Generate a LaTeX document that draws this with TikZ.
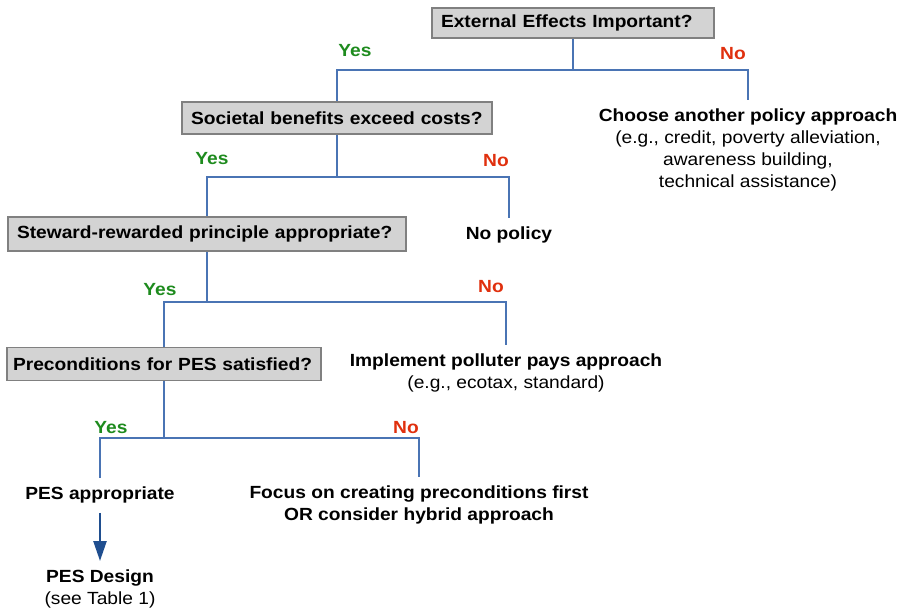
\documentclass[tikz,border=0pt]{standalone}
\usepackage{fontspec}
\setmainfont[FakeStretch=1.09]{Liberation Sans}
\usepackage{xcolor}
\usetikzlibrary{arrows.meta,positioning}

\definecolor{linkblue}{HTML}{4A74B4}
\definecolor{arrowblue}{HTML}{1F4E8F}
\definecolor{yesgreen}{HTML}{1E8B1E}
\definecolor{nored}{HTML}{E0300E}
\definecolor{boxgray}{HTML}{D3D3D3}
\definecolor{boxedge}{HTML}{808080}

\begin{document}
\begin{tikzpicture}[
  x=1pt, y=-1pt,
  font=\fontsize{17.6}{22}\selectfont,
  question/.style={rectangle, draw=boxedge, line width=1.8pt, fill=boxgray, minimum height=32pt, inner xsep=9pt, align=left, font=\fontsize{17.6}{22}\selectfont\bfseries},
  outcome/.style={align=center, inner xsep=4pt, inner ysep=9pt},
  yes/.style={text=yesgreen, font=\fontsize{17.6}{22}\selectfont\bfseries},
  no/.style={text=nored, font=\fontsize{17.6}{22}\selectfont\bfseries},
  link/.style={draw=linkblue, line width=1.6pt},
  arrow/.style={-{Triangle[length=20pt,width=13pt]}, draw=arrowblue, line width=2.4pt}
]
\useasboundingbox (0,0) rectangle (905,610);

% questions
\node[question, text width=264pt, minimum height=30pt] (q1) at (573,23) {External Effects Important?};
\node[question, text width=292pt] (q2) at (337,118) {Societal benefits exceed costs?};
\node[question, text width=380pt, minimum height=34pt] (q3) at (207,234) {Steward-rewarded principle appropriate?};
\node[question, text width=302pt, inner xsep=6pt, minimum height=33pt] (q4) at (164,364) {Preconditions for PES satisfied?};

% outcomes
\node[outcome, anchor=north] (other) at (748,100) {\textbf{Choose another policy approach}\\(e.g., credit, poverty alleviation,\\awareness building,\\technical assistance)};
\node[outcome, anchor=north] (none) at (509,218) {\textbf{No policy}};
\node[outcome, anchor=north] (polluter) at (506,345) {\textbf{Implement polluter pays approach}\\(e.g., ecotax, standard)};
\node[outcome, anchor=north] (pes) at (100,478) {\textbf{PES appropriate}};
\node[outcome, anchor=north] (focus) at (419,477) {\textbf{Focus on creating preconditions first}\\\textbf{OR consider hybrid approach}};
\node[outcome, anchor=north] (design) at (100,561) {\textbf{PES Design}\\(see Table 1)};

% junctions
\coordinate (j1) at (573,70);
\coordinate (j2) at (337,177);
\coordinate (j3) at (207,302);
\coordinate (j4) at (164,438);

\draw[link] (q1.south) -- (j1);
\draw[link] (j1) -| (q2.north);
\draw[link] (j1) -| (other.north);
\draw[link] (q2.south) -- (j2);
\draw[link] (j2) -| (q3.north);
\draw[link] (j2) -| (none.north);
\draw[link] (q3.south) -- (j3);
\draw[link] (j3) -| (q4.north);
\draw[link] (j3) -| (polluter.north);
\draw[link] (q4.south) -- (j4);
\draw[link] (j4) -| (pes.north);
\draw[link] (j4) -| (focus.north);
\draw[arrow] (pes.south) -- (design.north);

% branch labels
\node[yes] at (355,51) {Yes};
\node[no] at (733,54) {No};
\node[yes] at (212,159) {Yes};
\node[no] at (496,161) {No};
\node[yes] at (160,290) {Yes};
\node[no] at (491,287) {No};
\node[yes] at (111,428) {Yes};
\node[no] at (406,428) {No};
\end{tikzpicture}
\end{document}
